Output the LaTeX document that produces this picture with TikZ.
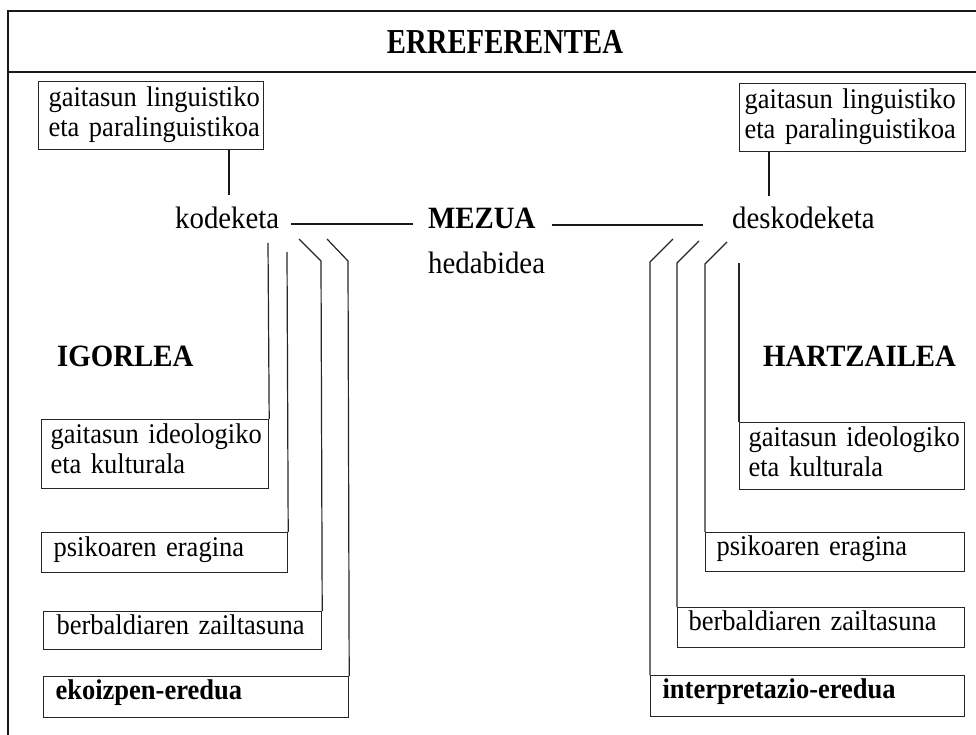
\documentclass[tikz,border=0pt]{standalone}
\usepackage{fontspec}
\setmainfont[FakeStretch=0.93]{Liberation Serif}
\newfontfamily\hdrfont[FakeStretch=0.82]{Liberation Serif}
\newcommand\bxl[2]{\hspace*{#1pt}#2}
\newcommand\bxs[3]{\hspace*{#1pt}\makebox[#2pt][s]{#3}}
\begin{document}
\begin{tikzpicture}[x=1pt,y=-1pt,
  main/.style={font=\fontsize{31}{35}\selectfont, inner sep=0pt, anchor=base west},
  mainb/.style={main, font=\fontsize{31}{35}\selectfont\bfseries},
  box/.style={draw=black!85, line width=1.2pt, anchor=north west, inner sep=0pt,
              align=left, font=\fontsize{28.5}{30}\selectfont},
  boxb/.style={box, font=\fontsize{28.5}{30}\selectfont\bfseries},
  thickline/.style={line width=2.3pt, draw=black!90},
  thinline/.style={line width=1.2pt, draw=black!85},
  frameline/.style={line width=2.2pt, draw=black!90}
]
\useasboundingbox (0,0) rectangle (976,735);

% frame and header
\draw[frameline] (976,11) -- (8,11) -- (8,735);
\draw[frameline] (8,72) -- (976,72);
\node[font=\hdrfont\fontsize{35}{38}\selectfont\bfseries, inner sep=0pt, anchor=base] (ref) at (505,54) {ERREFERENTEA};

% top boxes
\node[box, text width=225pt, text height=25pt, text depth=43pt] (tl) at (38,81)
  {\bxl{10}{gaitasun linguistiko}\\\bxl{10}{eta paralinguistikoa}};
\node[box, text width=226pt, text height=25pt, text depth=43pt] (tr) at (739,83)
  {\bxl{5}{gaitasun linguistiko}\\\bxl{5}{eta paralinguistikoa}};

% main labels
\node[main] (kod) at (175,229) {kodeketa};
\node[mainb] (mez) at (428,229) {MEZUA};
\node[main] (hed) at (428,273) {hedabidea};
\node[main] (desk) at (732,229) {deskodeketa};
\node[mainb] (igo) at (57,366) {IGORLEA};
\node[mainb] (har) at (763,366) {HARTZAILEA};

% left boxes
\node[box, text width=227pt, text height=24pt, text depth=45pt] (li) at (41,419)
  {\bxs{9}{213}{gaitasun ideologiko}\\\bxl{9}{eta kulturala}};
\node[box, text width=246pt, text height=24pt, text depth=16pt] (lp) at (41,532)
  {\bxl{12}{psikoaren eragina}};
\node[box, text width=278pt, text height=23pt, text depth=15pt] (lb) at (43,611)
  {\bxl{13}{berbaldiaren zailtasuna}};
\node[boxb, text width=305pt, text height=23pt, text depth=18pt] (le) at (43,676)
  {\bxl{12}{ekoizpen-eredua}};

% right boxes
\node[box, text width=225pt, text height=24pt, text depth=43pt] (ri) at (739,422)
  {\bxs{9}{212}{gaitasun ideologiko}\\\bxl{9}{eta kulturala}};
\node[box, text width=259pt, text height=23pt, text depth=16pt] (rp) at (705,532)
  {\bxl{11}{psikoaren eragina}};
\node[box, text width=287pt, text height=23pt, text depth=17pt] (rb) at (677,607)
  {\bxl{11}{berbaldiaren zailtasuna}};
\node[boxb, text width=314pt, text height=23pt, text depth=18pt] (re) at (650,675)
  {\bxl{12}{interpretazio-eredua}};

% free ends
\coordinate (kt) at (229,195);
\coordinate (rt) at (769,196);
\coordinate (l1) at (268,243);
\coordinate (l2) at (287,252);
\coordinate (l3) at (299,239);
\coordinate (l4) at (327,239);
\coordinate (r1) at (739,263);
\coordinate (r2) at (727,242);
\coordinate (r3) at (699,241);
\coordinate (r4) at (673,239);

% taps from top boxes
\draw[thickline] (tl.south -| kt) -- (kt);
\draw[thickline] (tr.south -| rt) -- (rt);

% message line
\draw[thickline, shorten <=12pt, shorten >=15pt] ([yshift=5pt]kod.base east) -- ([yshift=5pt]mez.base west);
\draw[thickline, shorten <=16pt, shorten >=29pt] ([yshift=4pt]mez.base east) -- ([yshift=4pt]desk.base west);

% left brackets
\draw[thinline] (l1) -- (li.north east);
\draw[thinline] (l2) -- (lp.north east);
\draw[thinline] (l3) -- ++(22,22) -- (lb.north east);
\draw[thinline] (l4) -- ++(21,22) -- (le.north east);

% right brackets
\draw[thinline] (r1) -- (ri.north west);
\draw[thinline] (r2) -- ++(-22,22) -- (rp.north west);
\draw[thinline] (r3) -- ++(-22,22) -- (rb.north west);
\draw[thinline] (r4) -- ++(-23,23) -- (re.north west);
\end{tikzpicture}
\end{document}
